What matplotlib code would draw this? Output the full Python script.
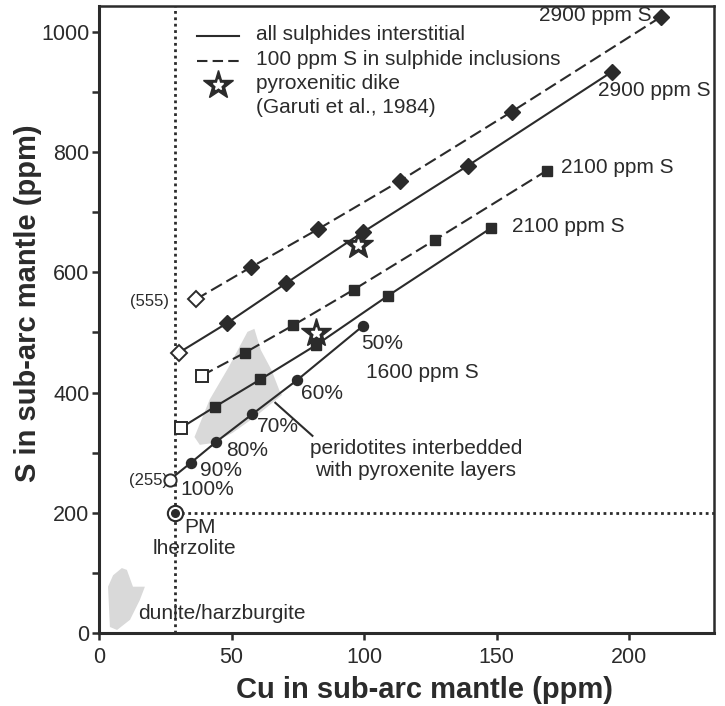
import matplotlib
matplotlib.use("Agg")
import matplotlib.pyplot as plt

plt.rcParams['font.family'] = ['Liberation Sans', 'DejaVu Sans']

INK = '#2b2b2b'

# data (Cu ppm, S ppm)
cu_incl_2900 = [36.5, 57.5, 82.7, 113.5, 155.6, 212.0]
s_incl_2900 = [555, 609, 672, 752, 867, 1025]

cu_int_2900 = [30.0, 48.1, 70.6, 99.6, 139.0, 193.6]
s_int_2900 = [466, 515, 582, 667, 777, 934]

cu_incl_2100 = [38.7, 54.9, 73.3, 96.0, 126.7, 168.8]
s_incl_2100 = [428, 466, 512, 571, 654, 769]

cu_int_2100 = [30.8, 43.6, 60.9, 81.9, 109.0, 148.0]
s_int_2100 = [341, 376, 422, 479, 561, 674]

cu_int_1600 = [26.7, 34.6, 44.2, 57.8, 74.8, 99.6]
s_int_1600 = [255, 283, 318, 364, 421, 511]
pct_labels = ['100%', '90%', '80%', '70%', '60%', '50%']

cu_dike = [97.5, 81.7]
s_dike = [645, 499]

pm_cu, pm_s = 28.5, 200

# shaded fields
perid_cu = [38, 36, 41.7, 49, 56, 58.6, 61, 65, 68, 69, 65.4, 59, 50.4, 43]
perid_s = [313, 326, 388, 443, 501, 506, 471, 438, 404, 396, 383, 360, 333, 316]
dun_cu = [8.6, 10.5, 12.8, 17.3, 15.4, 11.7, 6.8, 4.1, 3.4, 5.3]
dun_s = [108, 105, 77, 77, 55, 22, 5, 10, 77, 96]

fig = plt.figure(figsize=(7.25, 7.06), dpi=100)
ax = fig.add_axes([0.1366, 0.1034, 0.8483, 0.8881])

ax.fill(perid_cu, perid_s, color='#d9d9d9', lw=0, zorder=1)
ax.fill(dun_cu, dun_s, color='#d9d9d9', lw=0, zorder=1)

# dotted PM reference lines
dot = (0, (1, 1.3))
ax.axvline(pm_cu, color=INK, lw=2.0, ls=dot, zorder=2)
ax.plot([pm_cu, 232], [pm_s, pm_s], color=INK, lw=2.0, ls=dot, zorder=2)

dash = (0, (6, 2.5))
series = [
    (cu_incl_2900, s_incl_2900, dash, 'D', 8.5, 8),
    (cu_int_2900, s_int_2900, '-', 'D', 8.5, 8),
    (cu_incl_2100, s_incl_2100, dash, 's', 7.5, 8.5),
    (cu_int_2100, s_int_2100, '-', 's', 7.5, 8.5),
    (cu_int_1600, s_int_1600, '-', 'o', 7.2, 8.8),
]
for cu, s, ls, mk, ms, ms0 in series:
    ax.plot(cu, s, color=INK, lw=1.5, ls=ls, zorder=3)
    ax.plot(cu[1:], s[1:], ls='none', marker=mk, ms=ms, color=INK, zorder=4)
    ax.plot(cu[:1], s[:1], ls='none', marker=mk, ms=ms0, mfc='white',
            mec=INK, mew=1.4, zorder=4)

# pyroxenitic dike
ax.plot(cu_dike, s_dike, ls='none', marker='*', ms=22, color=INK, zorder=5)
ax.plot(cu_dike, s_dike, ls='none', marker='*', ms=8, color='white', zorder=6)

# PM lherzolite
ax.plot([pm_cu], [pm_s], ls='none', marker='o', ms=11, mfc='white', mec=INK,
        mew=1.5, zorder=5)
ax.plot([pm_cu], [pm_s], ls='none', marker='o', ms=5.5, color=INK, zorder=6)

fs = 15
tk = dict(color=INK, fontsize=fs)
ax.text(26.3, 551, '(555)', ha='right', va='center', color=INK, fontsize=12)
ax.text(26.0, 253, '(255)', ha='right', va='center', color=INK, fontsize=12)
pct_pos = [(30.5, 238), (38.0, 271), (48.1, 304), (59.4, 343), (76.3, 399), (98.9, 482)]
for (x, y), lab in zip(pct_pos, pct_labels):
    ax.text(x, y, lab, ha='left', va='center', **tk)
ax.text(100.8, 434, '1600 ppm S', ha='left', va='center', **tk)
ax.text(165.8, 1028, '2900 ppm S', ha='left', va='center', **tk)
ax.text(188.3, 903, '2900 ppm S', ha='left', va='center', **tk)
ax.text(174.4, 774, '2100 ppm S', ha='left', va='center', **tk)
ax.text(155.6, 676, '2100 ppm S', ha='left', va='center', **tk)
ax.text(119.5, 288, 'peridotites interbedded\nwith pyroxenite layers',
        ha='center', va='center', multialignment='center', **tk)
ax.plot([66.5, 80.5], [383, 328], color=INK, lw=1.5, zorder=3)
ax.text(32.3, 175, 'PM', ha='left', va='center', **tk)
ax.text(20.3, 141, 'lherzolite', ha='left', va='center', **tk)
ax.text(14.7, 33, 'dunite/harzburgite', ha='left', va='center', **tk)

# legend drawn by hand
tr = ax.transAxes
ax.plot([0.159, 0.228], [0.952, 0.952], color=INK, lw=1.5, transform=tr)
ax.plot([0.159, 0.228], [0.912, 0.912], color=INK, lw=1.5, ls=(0, (5, 2.5)), transform=tr)
ax.plot([0.193], [0.874], marker='*', ms=22, color=INK, transform=tr, ls='none')
ax.plot([0.193], [0.874], marker='*', ms=8, color='white', transform=tr, ls='none')
ax.text(0.255, 0.954, 'all sulphides interstitial', transform=tr, va='center', **tk)
ax.text(0.255, 0.914, '100 ppm S in sulphide inclusions', transform=tr, va='center', **tk)
ax.text(0.255, 0.876, 'pyroxenitic dike', transform=tr, va='center', **tk)
ax.text(0.255, 0.838, '(Garuti et al., 1984)', transform=tr, va='center', **tk)

ax.set_xlim(0, 232)
ax.set_ylim(0, 1043)
ax.set_xticks([0, 50, 100, 150, 200])
ax.set_yticks([0, 200, 400, 600, 800, 1000])
ax.set_yticks([100, 300, 500, 700, 900], minor=True)
ax.tick_params(axis='both', which='both', direction='out', length=5, width=1.8,
               color=INK, labelcolor=INK, labelsize=15.5)
ax.tick_params(axis='x', pad=5)
ax.tick_params(axis='y', pad=2)
for side in ['left', 'bottom']:
    ax.spines[side].set_linewidth(2.2)
for side in ['top', 'right']:
    ax.spines[side].set_linewidth(1.8)
for sp in ax.spines.values():
    sp.set_color(INK)

ax.set_xlabel('Cu in sub-arc mantle (ppm)', fontsize=21, fontweight='bold', color=INK)
ax.set_ylabel('S in sub-arc mantle (ppm)', fontsize=21, fontweight='bold', color=INK)
ax.xaxis.set_label_coords(0.53, -0.068)
ax.yaxis.set_label_coords(-0.092, 0.526)

fig.savefig('out.png', dpi=100)
